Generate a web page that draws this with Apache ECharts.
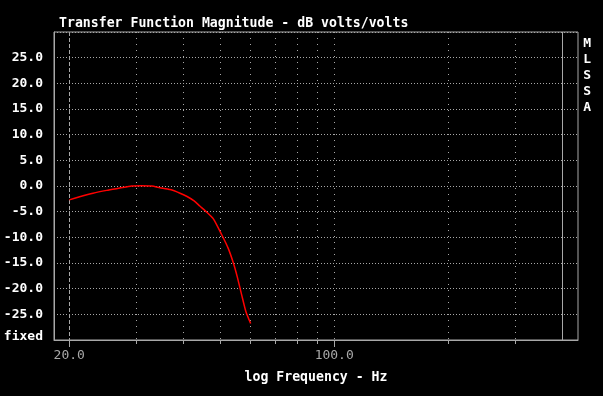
<!DOCTYPE html>
<html>
<head>
<meta charset="utf-8">
<script src="https://cdn.jsdelivr.net/npm/echarts@6/dist/echarts.min.js"></script>
<style>
html,body{margin:0;padding:0;background:#000;}
#chart{width:603px;height:396px;}
</style>
</head>
<body>
<div id="chart"></div>
<script>
// ---- data ----
const freqHz = [20, 21.3, 23.1, 25.1, 27.2, 29.2, 31.0, 33.0, 34.7, 36.9, 39.2, 40.8, 42.7, 44.2, 46.1, 48.0, 50.5, 52.5, 54.2, 55.5, 57.0, 58.5, 60.2];
const magDb  = [-2.7, -2.1, -1.4, -0.85, -0.4, 0.0, 0.05, 0.0, -0.33, -0.7, -1.4, -2.0, -2.9, -3.9, -5.1, -6.4, -9.5, -12.1, -15.0, -17.7, -21.2, -24.5, -26.8];

const xLabelHz   = [20, 100];
const xMinorHz   = [30, 40, 50, 60, 70, 80, 90, 100, 200, 300];
const xDashedHz  = [20];
const xPanelHz   = [400];
const xRangeHz   = [18.23, 439.7];

const yMin = -30, yMax = 30, yStep = 5;
const titleText = 'Transfer Function Magnitude - dB volts/volts';
const xName = 'log Frequency - Hz';
const sideText = ['M', 'L', 'S', 'S', 'A'];
const fixedLabel = 'fixed';

// ---- chart ----
const FONT = 'DejaVu Sans Mono';
const GREY = '#a8a8a8';
const lg = v => Math.log10(v);
const xMin = lg(xRangeHz[0]), xMax = lg(xRangeHz[1]);

function baseX(extra) {
  return Object.assign({
    type: 'value', gridIndex: 0, position: 'bottom',
    min: xMin, max: xMax,
    axisLine: {show: false, onZero: false},
    axisLabel: {show: false},
    axisTick: {show: false},
    splitLine: {show: false}
  }, extra);
}

const option = {
  backgroundColor: '#000',
  animation: false,
  title: {
    text: titleText, left: 59, top: 17, padding: 0,
    textStyle: {color: '#fff', fontFamily: FONT, fontSize: 13.2, fontWeight: 'bold'}
  },
  grid: {
    left: 54, right: 25, top: 32, bottom: 56,
    show: true, borderColor: GREY, borderWidth: 1, backgroundColor: 'transparent',
    containLabel: false, outerBoundsMode: 'none'
  },
  xAxis: [
    baseX({
      axisLine: {show: true, onZero: false, lineStyle: {color: GREY, width: 1}},
      axisTick: {show: true, length: 7, lineStyle: {color: GREY}, customValues: xLabelHz.map(lg)},
      axisLabel: {show: true, color: GREY, fontFamily: FONT, fontSize: 13, margin: 9,
        customValues: xLabelHz.map(lg),
        formatter: v => Math.pow(10, v).toFixed(1)},
      name: xName, nameLocation: 'middle', nameGap: 31,
      nameTextStyle: {color: '#fff', fontFamily: FONT, fontSize: 13.2, fontWeight: 'bold'}
    }),
    baseX({
      axisTick: {show: true, length: 4, lineStyle: {color: GREY}, customValues: xMinorHz.map(lg)},
      splitLine: {show: true, lineStyle: {color: GREY, width: 1, type: [1, 5]}}
    }),
    baseX({
      axisTick: {show: true, length: 0, customValues: xDashedHz.map(lg)},
      splitLine: {show: true, lineStyle: {color: GREY, width: 1, type: [4, 2]}}
    }),
    baseX({
      axisTick: {show: true, length: 0, customValues: xPanelHz.map(lg)},
      splitLine: {show: true, lineStyle: {color: GREY, width: 1, type: 'solid'}}
    })
  ],
  yAxis: {
    type: 'value', min: yMin, max: yMax, interval: yStep,
    axisLine: {show: true, onZero: false, lineStyle: {color: GREY}},
    axisTick: {show: false},
    axisLabel: {
      color: '#fff', fontFamily: FONT, fontSize: 13, fontWeight: 'bold', margin: 11,
      showMinLabel: true, showMaxLabel: true,
      formatter: v => v === yMax ? '' : (v === yMin ? '{f|' + fixedLabel + '}' : v.toFixed(1)),
      rich: {f: {color: '#fff', fontFamily: FONT, fontSize: 13, fontWeight: 'bold', padding: [0, 0, 7, 0]}}
    },
    splitLine: {show: true, lineStyle: {color: GREY, width: 1, type: [1, 2]}}
  },
  graphic: [{
    type: 'text', right: 12, top: 36,
    style: {text: sideText.join('\n'), fill: '#fff', font: 'bold 13px ' + FONT, lineHeight: 16, align: 'center'}
  }],
  series: [{
    type: 'line', xAxisIndex: 0,
    data: freqHz.map((f, i) => [lg(f), magDb[i]]),
    showSymbol: false, smooth: 0.2,
    lineStyle: {color: '#ff0000', width: 1.5},
    itemStyle: {color: '#ff0000'}
  }]
};

const chart = echarts.init(document.getElementById('chart'), null, {renderer: 'canvas'});
chart.setOption(option);
</script>
</body>
</html>
